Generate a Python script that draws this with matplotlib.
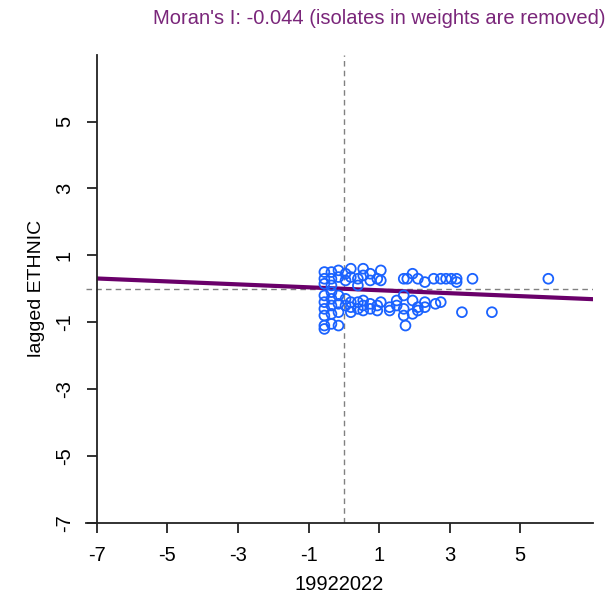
import matplotlib.pyplot as plt
import numpy as np

# Moran scatter: standardized values (x) vs spatially lagged values (y)
x_vals = [-0.55, -0.55, -0.55, -0.55, -0.55, -0.55, -0.55, -0.55, -0.55,
          -0.35, -0.35, -0.35, -0.35, -0.35, -0.35, -0.35, -0.35,
          -0.15, -0.15, -0.15, -0.15, -0.15, -0.15,
          0.05, 0.05, 0.05, 0.05,
          0.2, 0.2, 0.2, 0.2, 0.2,
          0.4, 0.4, 0.4, 0.4,
          0.55, 0.55, 0.55, 0.55, 0.55,
          0.75, 0.75, 0.75, 0.75,
          0.95, 0.95, 0.95,
          1.05, 1.05, 1.05,
          1.3, 1.3,
          1.5, 1.5,
          1.7, 1.7, 1.7, 1.7,
          1.75, 1.8,
          1.95, 1.95, 1.95,
          2.1, 2.1, 2.1,
          2.3, 2.3, 2.3,
          2.55, 2.6,
          2.75, 2.75,
          2.9, 3.05, 3.2, 3.2,
          3.35, 3.65, 4.2, 5.8]
y_vals = [0.5, 0.3, 0.15, -0.2, -0.4, -0.6, -0.8, -1.1, -1.2,
          0.5, 0.3, 0.1, -0.1, -0.3, -0.5, -0.75, -1.05,
          0.55, 0.35, -0.2, -0.45, -0.7, -1.1,
          0.45, 0.25, -0.3, -0.5,
          0.6, 0.35, -0.4, -0.55, -0.7,
          0.3, 0.1, -0.4, -0.6,
          0.6, 0.4, -0.35, -0.5, -0.65,
          0.45, 0.25, -0.45, -0.6,
          0.3, -0.5, -0.65,
          0.55, 0.25, -0.4,
          -0.55, -0.65,
          -0.35, -0.5,
          0.3, -0.2, -0.6, -0.8,
          -1.1, 0.3,
          0.45, -0.35, -0.75,
          0.3, -0.55, -0.65,
          0.2, -0.4, -0.55,
          0.3, -0.45,
          0.3, -0.4,
          0.3, 0.3, 0.3, 0.2,
          -0.7, 0.3, -0.7, 0.3]

moran_i = -0.044
intercept = 0.0
tick_vals = [-7, -5, -3, -1, 1, 3, 5]

plt.rcParams['font.family'] = ['Liberation Sans', 'DejaVu Sans']

fig = plt.figure(figsize=(6.14, 6.01), dpi=100)
ax = fig.add_axes([0.140, 0.130, 0.826, 0.779])

xlim = (-7.31, 7.07)
ax.set_xlim(*xlim)
ax.set_ylim(-7, 7)

# reference lines at zero
ax.axvline(0, color='#808080', linestyle='--', linewidth=1, dashes=(4, 3))
ax.axhline(0, color='#808080', linestyle='--', linewidth=1, dashes=(4, 3))

# regression line (slope = Moran's I)
xl = np.array([-7.0, xlim[1]])
ax.plot(xl, intercept + moran_i * xl, color='#6a006a', linewidth=3, solid_capstyle='butt')

ax.scatter(x_vals, y_vals, s=50, facecolors='none', edgecolors='#1a62ff', linewidths=1.3, zorder=3)

# R-style axes
ax.spines['top'].set_visible(False)
ax.spines['right'].set_visible(False)
ax.spines['left'].set_position(('data', -7))
for s in ['left', 'bottom']:
    ax.spines[s].set_linewidth(1.3)
    ax.spines[s].set_color('#222222')

ax.set_xticks(tick_vals)
ax.set_yticks(tick_vals)
ax.set_xticklabels([str(v) for v in tick_vals])
ax.set_yticklabels([str(v) for v in tick_vals], rotation=90, va='center')
ax.tick_params(direction='out', length=7.5, width=1.3, labelsize=14.5, color='#222222')
ax.tick_params(axis='x', pad=9)
ax.tick_params(axis='y', pad=9)

ax.set_xlabel('19922022', fontsize=14.5, labelpad=7)
ax.set_ylabel('lagged ETHNIC', fontsize=14, labelpad=7)
fig.text(379 / 614, 1 - 18 / 601, "Moran's I: -0.044 (isolates in weights are removed)",
         fontsize=14.5, color='#7a267a', ha='center', va='center')

fig.savefig('out.png', dpi=100)
